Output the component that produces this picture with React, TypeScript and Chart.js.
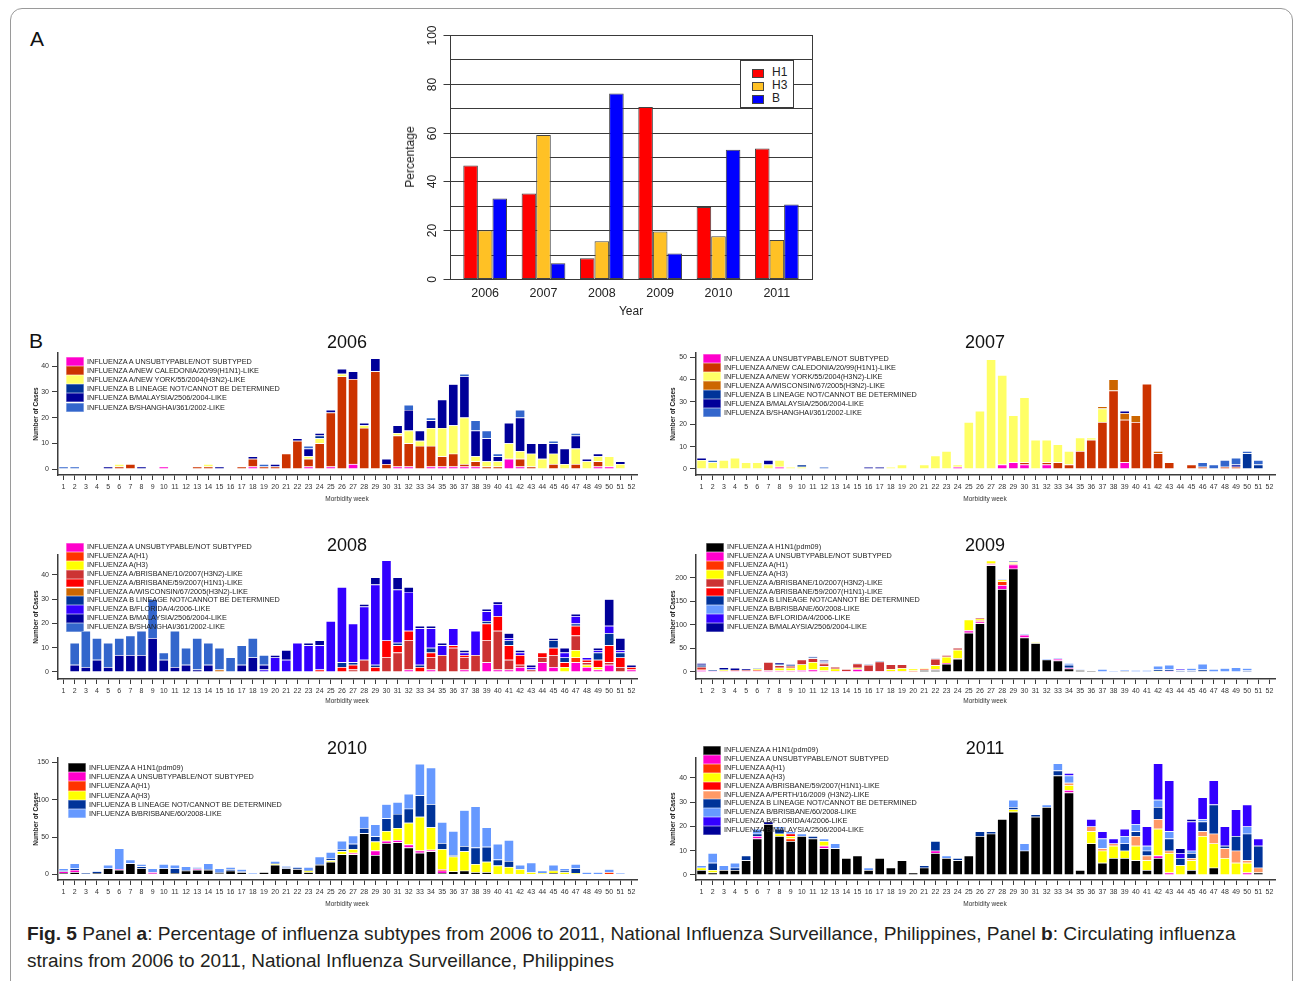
import React, { useEffect, useLayoutEffect, useRef, useState } from "react";
import { Chart, registerables } from "chart.js";
Chart.register(...registerables);

const FONT = "'Liberation Sans', Arial, Helvetica, sans-serif";

// ---------------- Panel A data ----------------
const subtypeYears = ["2006", "2007", "2008", "2009", "2010", "2011"];
const pctH1 = [46.5, 35, 8.5, 70.5, 29.5, 53.5];
const pctH3 = [20, 59, 15.5, 19.5, 17.5, 16];
const pctB = [33, 6.5, 76, 10.5, 53, 30.5];
const pctTickValues = [0, 20, 40, 60, 80, 100];
const pctGridValues = [10, 20, 30, 40, 50, 60, 70, 80, 90];

// ---------------- Panel B data ----------------
const weekLabels = [
  "1", "2", "3", "4", "5", "6", "7", "8", "9", "10", "11", "12", "13",
  "14", "15", "16", "17", "18", "19", "20", "21", "22", "23", "24", "25", "26",
  "27", "28", "29", "30", "31", "32", "33", "34", "35", "36", "37", "38", "39",
  "40", "41", "42", "43", "44", "45", "46", "47", "48", "49", "50", "51", "52",
];

const L_PDM = "INFLUENZA A H1N1(pdm09)";
const L_UNSUB = "INFLUENZA A UNSUBTYPABLE/NOT SUBTYPED";
const L_NEWCAL = "INFLUENZA A/NEW CALEDONIA/20/99(H1N1)-LIKE";
const L_NY = "INFLUENZA A/NEW YORK/55/2004(H3N2)-LIKE";
const L_WISC = "INFLUENZA A/WISCONSIN/67/2005(H3N2)-LIKE";
const L_H1 = "INFLUENZA A(H1)";
const L_H3 = "INFLUENZA A(H3)";
const L_BRIS10 = "INFLUENZA A/BRISBANE/10/2007(H3N2)-LIKE";
const L_BRIS59 = "INFLUENZA A/BRISBANE/59/2007(H1N1)-LIKE";
const L_PERTH = "INFLUENZA A/PERTH/16/2009 (H3N2)-LIKE";
const L_LINEAGE = "INFLUENZA B LINEAGE NOT/CANNOT BE DETERMINED";
const L_BRIS60 = "INFLUENZA B/BRISBANE/60/2008-LIKE";
const L_FLORIDA = "INFLUENZA B/FLORIDA/4/2006-LIKE";
const L_MALAY = "INFLUENZA B/MALAYSIA/2506/2004-LIKE";
const L_SHANG = "INFLUENZA B/SHANGHAI/361/2002-LIKE";

const COL_PDM = "#000000";
const COL_UNSUB = "#FF00CC";
const COL_NEWCAL = "#CC3300";
const COL_NY = "#FFFF66";
const COL_WISC = "#CC6600";
const COL_H1 = "#FF3300";
const COL_H3 = "#FFFF00";
const COL_BRIS10 = "#CC3333";
const COL_BRIS59 = "#FF0000";
const COL_PERTH = "#FF9966";
const COL_LINEAGE = "#003399";
const COL_BRIS60 = "#6699FF";
const COL_FLORIDA = "#3300FF";
const COL_MALAY = "#000099";
const COL_SHANG = "#3366CC";

// 2006
const unsub06 = [
  0, 0, 0, 0, 0, 0, 0, 0, 0, 1, 0, 0, 0,
  0, 0, 0, 0, 1, 0, 0, 0, 0, 1, 0, 1, 0,
  2, 0, 0, 0, 1, 1, 0, 1, 1, 1, 1, 1, 0,
  0, 4, 1, 0, 0, 0, 0, 0, 0, 1, 1, 0, 0,
];
const newcal06 = [
  0, 0, 0, 0, 0, 1, 2, 0, 0, 0, 0, 0, 1,
  1, 0, 0, 1, 3, 1, 1, 6, 11, 3, 10, 21, 36,
  33, 16, 38, 2, 12, 9, 9, 8, 4, 5, 1, 2, 1,
  1, 0, 3, 1, 0, 2, 0, 2, 0, 2, 0, 0, 0,
];
const ny06 = [
  0, 0, 0, 0, 0, 1, 0, 0, 0, 0, 0, 0, 0,
  1, 0, 0, 0, 0, 0, 0, 0, 0, 1, 2, 0, 1,
  0, 1, 0, 0, 1, 5, 2, 7, 11, 11, 18, 2, 2,
  2, 6, 3, 5, 4, 4, 2, 6, 3, 2, 4, 2, 0,
];
const lineage06 = [
  0, 0, 0, 0, 0, 0, 0, 0, 0, 0, 0, 0, 0,
  0, 0, 0, 0, 0, 0, 0, 0, 0, 0, 1, 0, 0,
  0, 0, 0, 0, 0, 0, 0, 0, 0, 0, 0, 0, 0,
  0, 0, 0, 0, 0, 0, 0, 0, 0, 0, 0, 0, 0,
];
const malay06 = [
  0, 0, 0, 0, 1, 0, 0, 1, 0, 0, 0, 0, 0,
  0, 1, 0, 0, 1, 0, 1, 0, 1, 3, 1, 1, 2,
  3, 1, 5, 2, 3, 8, 4, 3, 11, 16, 16, 10, 9,
  2, 8, 13, 4, 6, 4, 6, 5, 1, 1, 0, 1, 0,
];
const shang06 = [
  1, 1, 0, 0, 0, 0, 0, 0, 0, 0, 0, 0, 0,
  0, 0, 0, 0, 0, 1, 0, 0, 0, 1, 0, 0, 0,
  0, 0, 0, 0, 0, 2, 0, 1, 0, 0, 1, 4, 3,
  1, 0, 3, 0, 0, 1, 0, 1, 0, 0, 0, 0, 0,
];

// 2007
const unsub07 = [
  0, 0, 0, 0, 0, 0, 0, 1, 0, 0, 0, 0, 0,
  0, 0, 0, 0, 0, 0, 0, 0, 0, 0, 1, 0, 0,
  0, 2, 3, 2, 0, 2, 0, 0, 0, 0, 0, 0, 3,
  0, 0, 0, 0, 0, 0, 0, 0, 0, 0, 0, 0, 0,
];
const newcal07 = [
  0, 0, 0, 0, 0, 0, 0, 0, 0, 0, 0, 0, 0,
  0, 0, 0, 0, 0, 0, 0, 0, 0, 0, 0, 0, 0,
  0, 0, 0, 1, 0, 1, 3, 2, 8, 13, 21, 35, 19,
  21, 38, 7, 3, 0, 2, 1, 0, 1, 1, 0, 0, 0,
];
const ny07 = [
  4, 3, 4, 5, 3, 3, 2, 3, 1, 1, 0, 0, 0,
  0, 0, 0, 0, 1, 2, 0, 2, 6, 8, 1, 21, 26,
  49, 40, 21, 29, 13, 10, 8, 6, 6, 1, 6, 0, 0,
  0, 0, 0, 0, 0, 0, 0, 0, 0, 0, 0, 0, 0,
];
const wisc07 = [
  0, 0, 0, 0, 0, 0, 0, 0, 0, 0, 0, 0, 0,
  0, 0, 0, 0, 0, 0, 0, 0, 0, 0, 0, 0, 0,
  0, 0, 0, 0, 0, 0, 0, 0, 0, 0, 1, 5, 3,
  3, 0, 1, 0, 0, 0, 0, 0, 0, 0, 0, 0, 0,
];
const lineage07 = [
  0, 0, 0, 0, 0, 0, 0, 0, 0, 1, 0, 0, 0,
  0, 0, 0, 0, 0, 0, 0, 0, 0, 0, 0, 0, 0,
  0, 0, 0, 0, 0, 0, 0, 0, 0, 0, 0, 0, 0,
  0, 0, 0, 0, 0, 0, 0, 0, 0, 0, 7, 2, 0,
];
const malay07 = [
  1, 0, 0, 0, 0, 0, 2, 0, 0, 0, 0, 0, 0,
  0, 0, 1, 1, 0, 0, 0, 0, 0, 0, 0, 0, 0,
  0, 0, 0, 0, 0, 0, 0, 0, 0, 0, 0, 0, 1,
  0, 0, 0, 0, 0, 0, 0, 0, 0, 1, 0, 0, 0,
];
const shang07 = [
  0, 1, 0, 0, 0, 0, 0, 0, 0, 0, 0, 1, 0,
  0, 0, 0, 0, 0, 0, 0, 0, 0, 0, 0, 0, 0,
  0, 0, 0, 0, 0, 0, 0, 0, 0, 0, 0, 0, 0,
  0, 0, 0, 0, 0, 0, 2, 2, 3, 3, 1, 2, 0,
];

// 2008
const unsub08 = [
  0, 0, 0, 0, 0, 0, 0, 0, 0, 0, 0, 0, 0,
  0, 0, 0, 0, 0, 0, 0, 0, 0, 0, 0, 0, 0,
  0, 0, 0, 0, 0, 1, 0, 1, 0, 0, 1, 0, 4,
  1, 1, 2, 0, 4, 2, 0, 4, 2, 1, 3, 0, 1,
];
const h1_08 = [
  0, 0, 0, 0, 0, 0, 0, 0, 0, 0, 0, 0, 0,
  0, 0, 0, 0, 0, 0, 0, 0, 0, 0, 0, 0, 0,
  0, 0, 0, 0, 0, 0, 0, 0, 0, 0, 0, 0, 0,
  0, 0, 0, 0, 0, 0, 0, 2, 0, 0, 0, 0, 0,
];
const h3_08 = [
  0, 0, 0, 0, 0, 0, 0, 0, 0, 0, 0, 0, 0,
  0, 0, 0, 0, 0, 0, 0, 0, 0, 0, 0, 0, 0,
  0, 0, 0, 0, 0, 0, 0, 0, 0, 0, 0, 0, 0,
  0, 0, 0, 0, 0, 0, 2, 3, 1, 1, 0, 0, 0,
];
const bris10_08 = [
  0, 0, 0, 0, 0, 0, 0, 0, 0, 0, 0, 0, 0,
  0, 0, 0, 0, 0, 0, 0, 0, 0, 0, 0, 0, 0,
  1, 5, 0, 6, 8, 12, 0, 5, 7, 10, 5, 7, 9,
  16, 4, 1, 1, 2, 5, 0, 6, 1, 0, 1, 2, 0,
];
const bris59_08 = [
  0, 0, 0, 0, 0, 0, 0, 0, 0, 0, 0, 0, 0,
  0, 0, 0, 0, 0, 0, 0, 0, 0, 0, 1, 0, 2,
  2, 0, 2, 7, 3, 4, 2, 2, 0, 1, 1, 0, 7,
  6, 6, 4, 0, 2, 3, 2, 4, 1, 3, 7, 4, 1,
];
const wisc08 = [
  0, 0, 0, 0, 0, 0, 0, 0, 0, 0, 0, 0, 0,
  0, 1, 0, 0, 0, 0, 0, 0, 0, 0, 0, 0, 0,
  0, 0, 0, 0, 0, 0, 0, 0, 0, 0, 0, 0, 0,
  0, 0, 0, 0, 0, 0, 0, 0, 0, 0, 0, 0, 0,
];
const lineage08 = [
  0, 0, 0, 0, 0, 0, 0, 0, 0, 0, 0, 0, 0,
  0, 0, 0, 0, 0, 0, 0, 0, 0, 0, 0, 0, 2,
  1, 0, 1, 0, 1, 0, 1, 2, 0, 0, 0, 0, 1,
  0, 2, 0, 0, 0, 3, 2, 1, 0, 3, 5, 2, 0,
];
const florida08 = [
  0, 0, 0, 0, 0, 0, 0, 0, 0, 0, 0, 0, 0,
  0, 0, 0, 0, 0, 1, 6, 5, 12, 11, 10, 21, 31,
  16, 22, 33, 33, 22, 16, 15, 8, 4, 7, 1, 10, 4,
  5, 1, 1, 1, 0, 0, 2, 3, 1, 1, 3, 1, 0,
];
const malay08 = [
  0, 3, 2, 5, 2, 7, 7, 7, 14, 5, 2, 3, 1,
  3, 0, 0, 3, 6, 2, 1, 4, 0, 1, 2, 0, 0,
  0, 1, 3, 0, 5, 2, 1, 1, 1, 0, 1, 0, 1,
  1, 2, 1, 1, 0, 1, 2, 1, 0, 1, 11, 5, 1,
];
const shang08 = [
  0, 9, 15, 9, 10, 7, 8, 10, 16, 3, 15, 7, 13,
  9, 9, 6, 8, 8, 4, 0, 0, 0, 0, 0, 0, 0,
  0, 0, 0, 0, 0, 0, 0, 0, 0, 0, 0, 0, 0,
  0, 0, 0, 0, 0, 0, 0, 0, 0, 0, 0, 0, 0,
];

// 2009
const pdm09 = [
  0, 0, 0, 0, 0, 0, 0, 0, 0, 0, 0, 0, 0,
  0, 0, 0, 0, 0, 0, 0, 4, 4, 17, 28, 83, 103,
  226, 176, 219, 73, 61, 26, 24, 7, 4, 3, 0, 0, 2,
  0, 0, 0, 0, 0, 0, 2, 0, 0, 0, 0, 0, 0,
];
const unsub09 = [
  4, 2, 2, 2, 2, 2, 3, 3, 3, 4, 5, 3, 2,
  2, 6, 2, 2, 2, 2, 0, 0, 1, 2, 0, 5, 4,
  3, 8, 9, 6, 0, 0, 4, 2, 0, 0, 0, 0, 0,
  0, 0, 0, 2, 0, 0, 0, 0, 0, 0, 0, 0, 0,
];
const h1_09 = [
  2, 0, 0, 0, 0, 2, 0, 0, 0, 0, 0, 0, 0,
  0, 0, 0, 0, 0, 0, 3, 2, 1, 0, 1, 1, 3,
  1, 8, 2, 0, 0, 0, 0, 0, 0, 0, 0, 0, 0,
  0, 0, 0, 0, 0, 0, 0, 0, 0, 0, 0, 0, 0,
];
const h3_09 = [
  0, 0, 2, 0, 0, 2, 0, 6, 6, 12, 16, 9, 5,
  0, 3, 0, 0, 4, 6, 4, 2, 8, 13, 18, 22, 3,
  6, 4, 3, 0, 2, 0, 0, 0, 0, 0, 0, 0, 0,
  0, 0, 2, 0, 0, 0, 0, 0, 0, 0, 0, 0, 0,
];
const bris10_09 = [
  5, 0, 0, 2, 2, 0, 18, 5, 4, 10, 8, 6, 4,
  4, 9, 13, 20, 10, 8, 0, 0, 14, 4, 4, 0, 3,
  0, 0, 0, 0, 0, 0, 0, 0, 0, 0, 0, 0, 0,
  0, 0, 0, 0, 0, 0, 0, 0, 0, 0, 0, 0, 0,
];
const bris59_09 = [
  0, 0, 0, 0, 0, 0, 0, 0, 0, 0, 0, 2, 0,
  0, 0, 0, 0, 0, 0, 0, 0, 0, 0, 0, 0, 0,
  0, 0, 0, 0, 0, 0, 0, 0, 0, 0, 0, 0, 0,
  0, 0, 0, 0, 0, 0, 0, 0, 0, 0, 0, 0, 0,
];
const lineage09 = [
  4, 2, 2, 0, 0, 2, 0, 3, 3, 0, 3, 3, 0,
  0, 1, 2, 2, 0, 0, 0, 0, 1, 0, 0, 0, 0,
  0, 0, 2, 0, 0, 0, 0, 6, 0, 0, 0, 0, 0,
  0, 0, 3, 3, 3, 3, 3, 1, 0, 0, 3, 0, 0,
];
const bris60_09 = [
  0, 0, 0, 0, 0, 1, 0, 0, 0, 0, 1, 0, 0,
  0, 0, 0, 0, 0, 0, 0, 0, 0, 0, 0, 0, 0,
  0, 2, 1, 2, 0, 2, 2, 4, 1, 0, 6, 3, 2,
  4, 4, 8, 10, 1, 5, 12, 5, 8, 10, 5, 0, 0,
];
const florida09 = [
  0, 0, 0, 0, 0, 0, 0, 0, 0, 0, 0, 0, 0,
  0, 0, 0, 0, 0, 0, 0, 0, 0, 0, 0, 0, 0,
  0, 0, 0, 0, 0, 0, 0, 0, 0, 0, 0, 0, 0,
  0, 0, 0, 0, 2, 0, 0, 0, 0, 0, 0, 0, 0,
];
const malay09 = [
  4, 0, 4, 5, 3, 0, 0, 3, 2, 0, 0, 2, 0,
  0, 0, 0, 0, 0, 0, 0, 0, 0, 0, 0, 0, 0,
  0, 0, 0, 0, 0, 0, 0, 0, 0, 0, 0, 0, 0,
  0, 0, 0, 0, 0, 0, 0, 0, 0, 0, 0, 0, 0,
];

// 2010
const pdm10 = [
  2, 3, 0, 2, 8, 6, 15, 8, 1, 8, 2, 5, 6,
  6, 2, 5, 3, 0, 3, 13, 8, 7, 3, 13, 17, 27,
  27, 55, 26, 42, 43, 36, 29, 31, 2, 4, 5, 3, 3,
  0, 0, 0, 0, 0, 2, 0, 0, 0, 0, 0, 0, 0,
];
const unsub10 = [
  2, 3, 0, 0, 0, 1, 0, 0, 2, 0, 0, 0, 1,
  0, 0, 0, 0, 0, 0, 0, 0, 0, 0, 0, 0, 0,
  2, 0, 6, 3, 3, 4, 3, 2, 3, 0, 0, 0, 0,
  0, 0, 0, 0, 0, 0, 0, 0, 0, 0, 0, 0, 0,
];
const h1_10 = [
  0, 0, 0, 0, 0, 0, 0, 0, 0, 0, 0, 0, 0,
  0, 0, 0, 0, 0, 0, 0, 0, 0, 0, 0, 0, 0,
  0, 0, 0, 0, 0, 0, 0, 0, 2, 0, 0, 0, 0,
  0, 0, 0, 0, 0, 0, 0, 0, 0, 0, 3, 0, 0,
];
const h3_10 = [
  0, 0, 0, 0, 0, 0, 0, 0, 0, 0, 0, 0, 0,
  0, 0, 0, 0, 0, 0, 1, 0, 0, 2, 0, 2, 4,
  5, 0, 12, 13, 16, 29, 45, 30, 27, 20, 26, 11, 14,
  12, 10, 7, 3, 2, 3, 3, 2, 0, 0, 0, 0, 0,
];
const lineage10 = [
  1, 2, 2, 2, 0, 0, 0, 3, 0, 0, 6, 1, 1,
  1, 1, 2, 1, 0, 0, 1, 2, 2, 1, 1, 3, 3,
  7, 7, 7, 17, 19, 19, 29, 31, 8, 2, 7, 22, 20,
  8, 8, 0, 0, 0, 1, 2, 6, 0, 0, 0, 0, 0,
];
const bris60_10 = [
  3, 7, 0, 1, 5, 28, 5, 3, 5, 6, 5, 5, 2,
  8, 5, 3, 3, 2, 0, 3, 1, 1, 4, 10, 8, 11,
  11, 16, 16, 19, 16, 20, 42, 49, 28, 32, 48, 55, 26,
  21, 28, 6, 13, 3, 7, 3, 6, 3, 3, 4, 2, 0,
];

// 2011
const pdm11 = [
  2, 1, 2, 2, 6, 15, 21, 16, 14, 16, 15, 11, 11,
  7, 8, 2, 7, 3, 6, 1, 3, 9, 7, 6, 8, 16,
  17, 23, 26, 10, 24, 28, 41, 34, 2, 13, 5, 7, 7,
  6, 2, 7, 0, 0, 2, 0, 3, 0, 0, 0, 1, 0,
];
const unsub11 = [
  0, 0, 0, 0, 0, 1, 0, 0, 0, 0, 0, 1, 0,
  0, 0, 0, 0, 0, 0, 0, 0, 1, 0, 0, 0, 0,
  0, 0, 0, 0, 0, 0, 0, 1, 0, 0, 0, 0, 0,
  0, 0, 1, 1, 0, 0, 0, 0, 0, 0, 1, 0, 0,
];
const h1_11 = [
  0, 0, 0, 0, 0, 0, 0, 0, 1, 0, 0, 0, 0,
  0, 0, 0, 0, 0, 0, 0, 0, 0, 0, 0, 0, 0,
  0, 0, 0, 0, 0, 0, 0, 0, 0, 0, 0, 0, 0,
  0, 0, 0, 0, 0, 0, 0, 0, 0, 0, 0, 0, 0,
];
const h3_11 = [
  1, 1, 0, 0, 0, 0, 0, 1, 1, 0, 0, 2, 0,
  0, 0, 0, 0, 0, 0, 0, 0, 0, 0, 0, 0, 0,
  0, 0, 1, 0, 0, 0, 0, 2, 0, 5, 5, 5, 3,
  6, 4, 11, 8, 4, 4, 16, 10, 7, 5, 4, 0, 0,
];
const bris59_11 = [
  0, 0, 0, 0, 0, 0, 0, 0, 1, 0, 0, 0, 0,
  0, 0, 0, 0, 0, 0, 0, 0, 0, 0, 0, 0, 0,
  0, 0, 0, 0, 0, 0, 0, 0, 0, 0, 0, 0, 0,
  0, 0, 0, 0, 0, 0, 0, 0, 0, 0, 0, 0, 0,
];
const perth11 = [
  0, 0, 0, 0, 0, 0, 0, 0, 0, 0, 0, 0, 0,
  0, 0, 0, 0, 0, 0, 0, 0, 0, 0, 0, 0, 0,
  0, 0, 0, 0, 0, 0, 0, 1, 0, 2, 1, 1, 0,
  4, 2, 4, 1, 0, 1, 2, 4, 4, 5, 1, 2, 0,
];
const lineage11 = [
  0, 3, 0, 1, 2, 1, 0, 2, 0, 0, 1, 0, 0,
  0, 0, 0, 0, 0, 0, 0, 1, 4, 0, 1, 0, 2,
  1, 0, 1, 0, 1, 0, 2, 0, 0, 0, 0, 0, 3,
  2, 2, 5, 5, 3, 2, 4, 12, 1, 6, 11, 9, 0,
];
const bris60_11 = [
  1, 4, 2, 2, 0, 2, 0, 1, 1, 1, 0, 1, 2,
  0, 0, 1, 0, 0, 0, 0, 0, 0, 1, 0, 0, 0,
  0, 0, 3, 3, 0, 1, 3, 3, 0, 0, 4, 0, 3,
  3, 2, 3, 3, 0, 1, 1, 0, 0, 0, 3, 0, 0,
];
const florida11 = [
  0, 0, 0, 0, 0, 0, 0, 0, 0, 0, 0, 0, 0,
  0, 0, 0, 0, 0, 0, 0, 0, 0, 0, 0, 0, 0,
  0, 0, 0, 0, 0, 0, 0, 1, 0, 3, 3, 2, 3,
  6, 8, 15, 21, 2, 12, 9, 10, 8, 11, 9, 3, 0,
];
const malay11 = [
  0, 0, 0, 0, 0, 0, 1, 0, 0, 0, 0, 0, 0,
  0, 0, 0, 0, 0, 0, 0, 0, 0, 0, 0, 0, 0,
  0, 0, 0, 0, 0, 0, 0, 0, 0, 0, 0, 0, 0,
  0, 0, 0, 0, 2, 1, 0, 0, 0, 0, 0, 0, 0,
];

type Series = { label: string; color: string; data: number[] };

const strains2006: Series[] = [
  { label: L_UNSUB, color: COL_UNSUB, data: unsub06 },
  { label: L_NEWCAL, color: COL_NEWCAL, data: newcal06 },
  { label: L_NY, color: COL_NY, data: ny06 },
  { label: L_LINEAGE, color: COL_LINEAGE, data: lineage06 },
  { label: L_MALAY, color: COL_MALAY, data: malay06 },
  { label: L_SHANG, color: COL_SHANG, data: shang06 },
];
const strains2007: Series[] = [
  { label: L_UNSUB, color: COL_UNSUB, data: unsub07 },
  { label: L_NEWCAL, color: COL_NEWCAL, data: newcal07 },
  { label: L_NY, color: COL_NY, data: ny07 },
  { label: L_WISC, color: COL_WISC, data: wisc07 },
  { label: L_LINEAGE, color: COL_LINEAGE, data: lineage07 },
  { label: L_MALAY, color: COL_MALAY, data: malay07 },
  { label: L_SHANG, color: COL_SHANG, data: shang07 },
];
const strains2008: Series[] = [
  { label: L_UNSUB, color: COL_UNSUB, data: unsub08 },
  { label: L_H1, color: COL_H1, data: h1_08 },
  { label: L_H3, color: COL_H3, data: h3_08 },
  { label: L_BRIS10, color: COL_BRIS10, data: bris10_08 },
  { label: L_BRIS59, color: COL_BRIS59, data: bris59_08 },
  { label: L_WISC, color: COL_WISC, data: wisc08 },
  { label: L_LINEAGE, color: COL_LINEAGE, data: lineage08 },
  { label: L_FLORIDA, color: COL_FLORIDA, data: florida08 },
  { label: L_MALAY, color: COL_MALAY, data: malay08 },
  { label: L_SHANG, color: COL_SHANG, data: shang08 },
];
const strains2009: Series[] = [
  { label: L_PDM, color: COL_PDM, data: pdm09 },
  { label: L_UNSUB, color: COL_UNSUB, data: unsub09 },
  { label: L_H1, color: COL_H1, data: h1_09 },
  { label: L_H3, color: COL_H3, data: h3_09 },
  { label: L_BRIS10, color: COL_BRIS10, data: bris10_09 },
  { label: L_BRIS59, color: COL_BRIS59, data: bris59_09 },
  { label: L_LINEAGE, color: COL_LINEAGE, data: lineage09 },
  { label: L_BRIS60, color: COL_BRIS60, data: bris60_09 },
  { label: L_FLORIDA, color: COL_FLORIDA, data: florida09 },
  { label: L_MALAY, color: COL_MALAY, data: malay09 },
];
const strains2010: Series[] = [
  { label: L_PDM, color: COL_PDM, data: pdm10 },
  { label: L_UNSUB, color: COL_UNSUB, data: unsub10 },
  { label: L_H1, color: COL_H1, data: h1_10 },
  { label: L_H3, color: COL_H3, data: h3_10 },
  { label: L_LINEAGE, color: COL_LINEAGE, data: lineage10 },
  { label: L_BRIS60, color: COL_BRIS60, data: bris60_10 },
];
const strains2011: Series[] = [
  { label: L_PDM, color: COL_PDM, data: pdm11 },
  { label: L_UNSUB, color: COL_UNSUB, data: unsub11 },
  { label: L_H1, color: COL_H1, data: h1_11 },
  { label: L_H3, color: COL_H3, data: h3_11 },
  { label: L_BRIS59, color: COL_BRIS59, data: bris59_11 },
  { label: L_PERTH, color: COL_PERTH, data: perth11 },
  { label: L_LINEAGE, color: COL_LINEAGE, data: lineage11 },
  { label: L_BRIS60, color: COL_BRIS60, data: bris60_11 },
  { label: L_FLORIDA, color: COL_FLORIDA, data: florida11 },
  { label: L_MALAY, color: COL_MALAY, data: malay11 },
];

const ticks2006 = [0, 10, 20, 30, 40];
const ticks2007 = [0, 10, 20, 30, 40, 50];
const ticks2008 = [0, 10, 20, 30, 40];
const ticks2009 = [0, 50, 100, 150, 200];
const ticks2010 = [0, 50, 100, 150];
const ticks2011 = [0, 10, 20, 30, 40];

// ---------------- layout ----------------
const COLS = [
  { canvasLeft: 20, centerX: 347, yTitleX: 36 },
  { canvasLeft: 658, centerX: 985, yTitleX: 673 },
];
const ROWS = [
  { areaTop: 353, areaBottom: 475, titleY: 342, xTitleY: 499 },
  { areaTop: 555, areaBottom: 679, titleY: 545, xTitleY: 701 },
  { areaTop: 758, areaBottom: 880, titleY: 748, xTitleY: 904 },
];
const B_W = 625;
const B_TOP_PAD = 23;
const B_X_H = 30;
const B_Y_W = 38;

type Panel = {
  title: string;
  series: Series[];
  yTicks: number[];
  yMin: number;
  yMax: number;
  col: number;
  row: number;
  legend: { x: number; y: number; rowH: number; textX: number };
};

const panels: Panel[] = [
  { title: "2006", series: strains2006, yTicks: ticks2006, yMin: -2.3, yMax: 45.1, col: 0, row: 0, legend: { x: 66, y: 357, rowH: 9.1, textX: 87 } },
  { title: "2007", series: strains2007, yTicks: ticks2007, yMin: -2.7, yMax: 51.8, col: 1, row: 0, legend: { x: 703, y: 354, rowH: 9, textX: 724 } },
  { title: "2008", series: strains2008, yTicks: ticks2008, yMin: -2.9, yMax: 48.2, col: 0, row: 1, legend: { x: 66, y: 543, rowH: 8.9, textX: 87 } },
  { title: "2009", series: strains2009, yTicks: ticks2009, yMin: -15, yMax: 248, col: 1, row: 1, legend: { x: 706, y: 543, rowH: 8.9, textX: 727 } },
  { title: "2010", series: strains2010, yTicks: ticks2010, yMin: -7.5, yMax: 155.8, col: 0, row: 2, legend: { x: 68, y: 763, rowH: 9.2, textX: 89 } },
  { title: "2011", series: strains2011, yTicks: ticks2011, yMin: -2.1, yMax: 48.2, col: 1, row: 2, legend: { x: 703, y: 746, rowH: 8.9, textX: 724 } },
];

function Txt(props: {
  x: number; y: number; size: number; children: React.ReactNode;
  rotate?: boolean; bold?: boolean; color?: string;
}) {
  const { x, y, size, children, rotate, bold, color } = props;
  return (
    <div
      style={{
        position: "absolute", left: x, top: y,
        transform: `translate(-50%, -50%)${rotate ? " rotate(-90deg)" : ""}`,
        fontSize: size, fontFamily: FONT, fontWeight: bold ? "bold" : "normal",
        color: color || "#222", whiteSpace: "nowrap", lineHeight: 1,
      }}
    >
      {children}
    </div>
  );
}

function StrainChart({ p }: { p: Panel }) {
  const ref = useRef<HTMLCanvasElement>(null);
  const col = COLS[p.col];
  const row = ROWS[p.row];
  const top = row.areaTop - B_TOP_PAD;
  const height = row.areaBottom + B_X_H - top;

  useEffect(() => {
    const axisColor = "#3c3c3c";
    const chart = new Chart(ref.current as HTMLCanvasElement, {
      type: "bar",
      data: {
        labels: weekLabels,
        datasets: p.series.map((s) => ({
          label: s.label,
          data: s.data.map((v) => (v === 0 ? null : v)),
          backgroundColor: s.color,
          borderColor: "rgba(255,255,255,0.55)",
          borderWidth: { top: 0.7, left: 0.7, right: 0.7, bottom: 0 },
          borderSkipped: false,
          barPercentage: 0.9,
          categoryPercentage: 1,
          stack: "s",
        })),
      },
      options: {
        animation: false,
        responsive: false,
        maintainAspectRatio: false,
        layout: { padding: { top: B_TOP_PAD, right: 8, left: 0, bottom: 0 } },
        plugins: { legend: { display: false }, tooltip: { enabled: false }, title: { display: false } },
        scales: {
          x: {
            stacked: true,
            grid: { display: true, drawOnChartArea: false, drawTicks: true, tickLength: 5, color: axisColor, offset: false },
            border: { display: true, color: axisColor, width: 1.5 },
            ticks: { autoSkip: false, maxRotation: 0, minRotation: 0, font: { family: FONT, size: 7 }, color: "#333", padding: 3 },
            afterFit: (s: any) => { s.height = B_X_H; },
          },
          y: {
            stacked: true,
            min: p.yMin,
            max: p.yMax,
            grid: { display: true, drawOnChartArea: false, drawTicks: true, tickLength: 6, color: axisColor },
            border: { display: true, color: axisColor, width: 1.5 },
            ticks: { font: { family: FONT, size: 7 }, color: "#333", padding: 3 },
            afterBuildTicks: (s: any) => { s.ticks = p.yTicks.map((v) => ({ value: v })); },
            afterFit: (s: any) => { s.width = B_Y_W; },
          },
        },
      } as any,
    });
    return () => chart.destroy();
  }, []);

  const lg = p.legend;
  return (
    <>
      <canvas
        ref={ref}
        width={B_W}
        height={height}
        style={{ position: "absolute", left: col.canvasLeft, top, width: B_W, height }}
      />
      <Txt x={col.centerX} y={row.titleY} size={18} color="#111">{p.title}</Txt>
      <Txt x={col.centerX} y={row.xTitleY} size={6.5} color="#333">Morbidity week</Txt>
      <Txt x={col.yTitleX} y={(row.areaTop + row.areaBottom) / 2} size={6.5} rotate bold color="#222">Number of Cases</Txt>
      {p.series.map((s, i) => (
        <React.Fragment key={i}>
          <div
            style={{
              position: "absolute", left: lg.x, top: lg.y + i * lg.rowH, width: 18, height: lg.rowH,
              background: s.color, boxShadow: "inset 0 0 0 0.6px rgba(255,255,255,0.6)",
            }}
          />
          <div
            style={{
              position: "absolute", left: lg.textX, top: lg.y + i * lg.rowH, height: lg.rowH,
              lineHeight: `${lg.rowH}px`, fontSize: 7.3, fontFamily: FONT, color: "#222", whiteSpace: "nowrap",
            }}
          >
            {s.label}
          </div>
        </React.Fragment>
      ))}
    </>
  );
}

function PanelA() {
  const ref = useRef<HTMLCanvasElement>(null);
  useEffect(() => {
    const frame = {
      id: "aFrame",
      beforeDatasetsDraw(chart: any) {
        const { ctx, chartArea: a, scales } = chart;
        const ys = scales.y;
        const L = Math.round(a.left - 6) + 0.5;
        const R = Math.round(a.right + 6) + 0.5;
        ctx.save();
        ctx.strokeStyle = "#3a3a3a";
        ctx.lineWidth = 1;
        for (const v of pctGridValues) {
          const y = Math.round(ys.getPixelForValue(v)) + 0.5;
          ctx.beginPath(); ctx.moveTo(L, y); ctx.lineTo(R, y); ctx.stroke();
        }
        const t = Math.round(ys.getPixelForValue(100)) + 0.5;
        const b = Math.round(ys.getPixelForValue(0)) + 0.5;
        ctx.strokeRect(L, t, R - L, b - t);
        ctx.fillStyle = "#222";
        ctx.font = `12px ${FONT}`;
        ctx.textAlign = "center";
        ctx.textBaseline = "middle";
        for (const v of pctTickValues) {
          const y = Math.round(ys.getPixelForValue(v)) + 0.5;
          ctx.beginPath(); ctx.moveTo(L - 7, y); ctx.lineTo(L, y); ctx.stroke();
          ctx.save();
          ctx.translate(L - 18, y);
          ctx.rotate(-Math.PI / 2);
          ctx.fillText(String(v), 0, 0);
          ctx.restore();
        }
        ctx.restore();
      },
    };
    const common = { borderColor: "#444", borderWidth: 1, borderSkipped: false, categoryPercentage: 0.75, barPercentage: 1 };
    const chart = new Chart(ref.current as HTMLCanvasElement, {
      type: "bar",
      data: {
        labels: subtypeYears,
        datasets: [
          { label: "H1", data: pctH1, backgroundColor: "#FF0000", ...common },
          { label: "H3", data: pctH3, backgroundColor: "#FFC125", ...common },
          { label: "B", data: pctB, backgroundColor: "#0000FF", ...common },
        ],
      },
      options: {
        animation: false,
        responsive: false,
        maintainAspectRatio: false,
        layout: { padding: { top: 15, right: 24, left: 0, bottom: 0 } },
        plugins: { legend: { display: false }, tooltip: { enabled: false } },
        scales: {
          x: {
            grid: { display: false, drawTicks: false },
            border: { display: false },
            ticks: { font: { family: FONT, size: 12.5 }, color: "#222", padding: 7 },
            afterFit: (s: any) => { s.height = 46; },
          },
          y: {
            min: 0,
            max: 100,
            grid: { display: false },
            border: { display: false },
            ticks: { display: false },
            afterFit: (s: any) => { s.width = 76; },
          },
        },
      } as any,
      plugins: [frame],
    });
    return () => chart.destroy();
  }, []);

  const legendItems = [
    { label: "H1", color: "#FF0000" },
    { label: "H3", color: "#FFC125" },
    { label: "B", color: "#0000FF" },
  ];
  return (
    <>
      <canvas ref={ref} width={450} height={305} style={{ position: "absolute", left: 380, top: 20, width: 450, height: 305 }} />
      <Txt x={410} y={157} size={12} rotate>Percentage</Txt>
      <Txt x={631} y={311} size={12}>Year</Txt>
      <div
        style={{
          position: "absolute", left: 740, top: 60, width: 54, height: 48, boxSizing: "border-box",
          border: "1px solid #3a3a3a", background: "#fff",
        }}
      >
        {legendItems.map((it, i) => (
          <React.Fragment key={i}>
            <div
              style={{
                position: "absolute", left: 11, top: 8 + i * 13, width: 10, height: 7,
                background: it.color, border: "1px solid #444",
              }}
            />
            <div
              style={{
                position: "absolute", left: 31, top: 5 + i * 13, fontSize: 12, lineHeight: "13px",
                fontFamily: FONT, color: "#222",
              }}
            >
              {it.label}
            </div>
          </React.Fragment>
        ))}
      </div>
    </>
  );
}

function FitLine(props: { x: number; y: number; width: number; children: React.ReactNode }) {
  const ref = useRef<HTMLDivElement>(null);
  const [s, setS] = useState(1);
  useLayoutEffect(() => {
    if (ref.current) {
      const w = ref.current.offsetWidth;
      if (w > 0) setS(props.width / w);
    }
  }, [props.width]);
  return (
    <div
      ref={ref}
      style={{
        position: "absolute", left: props.x, top: props.y, whiteSpace: "nowrap",
        transformOrigin: "0 50%", transform: `translateY(-50%) scaleX(${s})`,
        fontFamily: FONT, fontSize: 19, color: "#231f20", lineHeight: 1.2,
      }}
    >
      {props.children}
    </div>
  );
}

export default function App() {
  return (
    <div
      style={{
        position: "absolute", left: 0, top: 0, width: 1295, height: 981, overflow: "hidden",
        background: "#fff", fontFamily: FONT,
      }}
    >
      <div
        style={{
          position: "absolute", left: 10, top: 8, width: 1283, height: 985, boxSizing: "border-box",
          border: "1px solid #9a9a9a", borderRadius: 12,
        }}
      />
      <Txt x={37} y={38} size={21} color="#111">A</Txt>
      <Txt x={36} y={340} size={21} color="#111">B</Txt>
      <PanelA />
      {panels.map((p) => (
        <StrainChart key={p.title} p={p} />
      ))}
      <FitLine x={27} y={934} width={1209}>
        <b>Fig. 5</b> Panel <b>a</b>: Percentage of influenza subtypes from 2006 to 2011, National Influenza Surveillance, Philippines, Panel <b>b</b>: Circulating influenza
      </FitLine>
      <FitLine x={27} y={961} width={587}>
        strains from 2006 to 2011, National Influenza Surveillance, Philippines
      </FitLine>
    </div>
  );
}
